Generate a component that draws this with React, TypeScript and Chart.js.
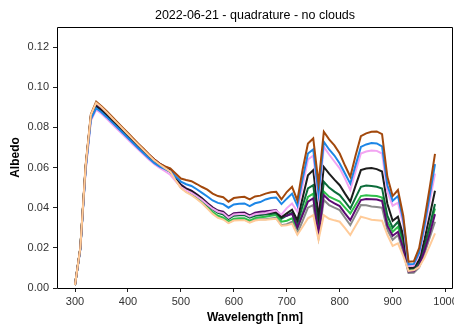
import React, { useEffect, useRef } from "react";
import { Chart, registerables } from "chart.js";

Chart.register(...registerables);

const TITLE = "2022-06-21 - quadrature - no clouds";
const X_LABEL = "Wavelength [nm]";
const Y_LABEL = "Albedo";
const X_TICKS = [300, 400, 500, 600, 700, 800, 900, 1000];
const Y_TICKS = [0, 0.02, 0.04, 0.06, 0.08, 0.1, 0.12];

const wavelengths = [
  300, 310, 320, 330, 340, 350, 360, 370, 380, 390,
  400, 410, 420, 430, 440, 450, 460, 470, 480, 490,
  500, 510, 520, 530, 540, 550, 560, 570, 580, 590,
  600, 610, 620, 630, 640, 650, 660, 670, 680, 690,
  700, 710, 720, 730, 740, 750, 760, 770, 780, 790,
  800, 810, 820, 830, 840, 850, 860, 870, 880, 890,
  900, 910, 920, 930, 940, 950, 960, 970, 980,
];

const brown = [
  0.0015, 0.0200, 0.0610, 0.0865, 0.0928, 0.0905, 0.0880, 0.0853, 0.0826, 0.0799,
  0.0772, 0.0745, 0.0718, 0.0692, 0.0665, 0.0640, 0.0620, 0.0606, 0.0596, 0.0570,
  0.0545, 0.0538, 0.0532, 0.0518, 0.0503, 0.0490, 0.0470, 0.0458, 0.0452, 0.0430,
  0.0448, 0.0452, 0.0454, 0.0441, 0.0456, 0.0460, 0.0470, 0.0477, 0.0479, 0.0442,
  0.0478, 0.0504, 0.0436, 0.0590, 0.0720, 0.0745, 0.0520, 0.0778, 0.0740, 0.0710,
  0.0670, 0.0610, 0.0554, 0.0660, 0.0756, 0.0770, 0.0778, 0.0780, 0.0766, 0.0554,
  0.0458, 0.0488, 0.0360, 0.0131, 0.0133, 0.0198, 0.0340, 0.0500, 0.0668,
];

const blue = [
  0.0015, 0.0192, 0.0588, 0.0840, 0.0895, 0.0875, 0.0851, 0.0825, 0.0799, 0.0773,
  0.0747, 0.0721, 0.0695, 0.0670, 0.0645, 0.0622, 0.0605, 0.0592, 0.0580, 0.0555,
  0.0530, 0.0517, 0.0508, 0.0492, 0.0474, 0.0456, 0.0436, 0.0424, 0.0418, 0.0400,
  0.0416, 0.0420, 0.0421, 0.0408, 0.0422, 0.0428, 0.0441, 0.0448, 0.0451, 0.0418,
  0.0445, 0.0470, 0.0410, 0.0545, 0.0670, 0.0690, 0.0470, 0.0728, 0.0690, 0.0660,
  0.0620, 0.0570, 0.0520, 0.0612, 0.0703, 0.0715, 0.0722, 0.0720, 0.0705, 0.0512,
  0.0435, 0.0458, 0.0338, 0.0118, 0.0120, 0.0176, 0.0310, 0.0460, 0.0617,
];

const pink = [
  0.0015, 0.0190, 0.0580, 0.0833, 0.0888, 0.0868, 0.0843, 0.0817, 0.0791, 0.0765,
  0.0739, 0.0713, 0.0688, 0.0663, 0.0639, 0.0616, 0.0598, 0.0582, 0.0564, 0.0533,
  0.0503, 0.0486, 0.0474, 0.0457, 0.0438, 0.0416, 0.0395, 0.0380, 0.0373, 0.0350,
  0.0366, 0.0368, 0.0369, 0.0356, 0.0367, 0.0371, 0.0374, 0.0380, 0.0386, 0.0365,
  0.0398, 0.0421, 0.0380, 0.0510, 0.0640, 0.0660, 0.0440, 0.0703, 0.0665, 0.0630,
  0.0596, 0.0545, 0.0488, 0.0580, 0.0670, 0.0680, 0.0685, 0.0683, 0.0670, 0.0480,
  0.0410, 0.0425, 0.0318, 0.0110, 0.0112, 0.0165, 0.0290, 0.0430, 0.0570,
];

const black = [
  0.0015, 0.0195, 0.0598, 0.0853, 0.0905, 0.0885, 0.0861, 0.0835, 0.0809, 0.0783,
  0.0757, 0.0731, 0.0705, 0.0680, 0.0655, 0.0632, 0.0612, 0.0598, 0.0585, 0.0545,
  0.0512, 0.0493, 0.0482, 0.0464, 0.0444, 0.0419, 0.0398, 0.0382, 0.0375, 0.0352,
  0.0368, 0.0370, 0.0371, 0.0358, 0.0368, 0.0372, 0.0372, 0.0376, 0.0378, 0.0352,
  0.0372, 0.0390, 0.0338, 0.0450, 0.0562, 0.0587, 0.0360, 0.0603, 0.0570, 0.0540,
  0.0512, 0.0470, 0.0430, 0.0510, 0.0587, 0.0595, 0.0598, 0.0592, 0.0580, 0.0420,
  0.0335, 0.0355, 0.0262, 0.0100, 0.0102, 0.0140, 0.0240, 0.0360, 0.0484,
];

const purple = [
  0.0015, 0.0197, 0.0600, 0.0858, 0.0912, 0.0892, 0.0868, 0.0842, 0.0816, 0.0790,
  0.0764, 0.0738, 0.0713, 0.0688, 0.0663, 0.0640, 0.0620, 0.0604, 0.0590, 0.0550,
  0.0515, 0.0496, 0.0485, 0.0467, 0.0447, 0.0423, 0.0402, 0.0386, 0.0380, 0.0356,
  0.0372, 0.0375, 0.0376, 0.0362, 0.0375, 0.0380, 0.0382, 0.0385, 0.0388, 0.0356,
  0.0360, 0.0370, 0.0300, 0.0365, 0.0430, 0.0446, 0.0270, 0.0463, 0.0437, 0.0422,
  0.0408, 0.0372, 0.0338, 0.0390, 0.0438, 0.0443, 0.0442, 0.0441, 0.0433, 0.0310,
  0.0260, 0.0280, 0.0200, 0.0082, 0.0083, 0.0112, 0.0185, 0.0270, 0.0368,
];

const darkGreen = [
  0.0015, 0.0196, 0.0598, 0.0855, 0.0910, 0.0889, 0.0864, 0.0838, 0.0811, 0.0785,
  0.0758, 0.0731, 0.0705, 0.0679, 0.0653, 0.0630, 0.0610, 0.0595, 0.0580, 0.0540,
  0.0507, 0.0488, 0.0476, 0.0458, 0.0438, 0.0413, 0.0391, 0.0374, 0.0366, 0.0344,
  0.0360, 0.0362, 0.0363, 0.0350, 0.0360, 0.0364, 0.0366, 0.0369, 0.0372, 0.0345,
  0.0360, 0.0375, 0.0320, 0.0410, 0.0496, 0.0512, 0.0310, 0.0529, 0.0500, 0.0480,
  0.0463, 0.0430, 0.0396, 0.0450, 0.0504, 0.0510, 0.0508, 0.0504, 0.0496, 0.0360,
  0.0300, 0.0330, 0.0240, 0.0095, 0.0096, 0.0128, 0.0210, 0.0310, 0.0418,
];

const green = [
  0.0015, 0.0195, 0.0596, 0.0852, 0.0905, 0.0884, 0.0859, 0.0833, 0.0807, 0.0781,
  0.0754, 0.0728, 0.0702, 0.0676, 0.0651, 0.0628, 0.0608, 0.0593, 0.0578, 0.0538,
  0.0503, 0.0483, 0.0470, 0.0451, 0.0430, 0.0404, 0.0378, 0.0360, 0.0351, 0.0331,
  0.0345, 0.0347, 0.0347, 0.0335, 0.0348, 0.0352, 0.0355, 0.0360, 0.0363, 0.0330,
  0.0335, 0.0347, 0.0297, 0.0375, 0.0454, 0.0470, 0.0290, 0.0480, 0.0455, 0.0443,
  0.0430, 0.0400, 0.0371, 0.0415, 0.0458, 0.0462, 0.0460, 0.0458, 0.0450, 0.0330,
  0.0280, 0.0305, 0.0220, 0.0090, 0.0092, 0.0122, 0.0200, 0.0300, 0.0396,
];

const gray = [
  0.0015, 0.0198, 0.0603, 0.0861, 0.0918, 0.0896, 0.0871, 0.0844, 0.0817, 0.0790,
  0.0763, 0.0736, 0.0709, 0.0683, 0.0657, 0.0633, 0.0613, 0.0596, 0.0580, 0.0538,
  0.0500, 0.0480, 0.0466, 0.0447, 0.0426, 0.0400, 0.0373, 0.0354, 0.0345, 0.0326,
  0.0339, 0.0341, 0.0341, 0.0329, 0.0339, 0.0343, 0.0343, 0.0346, 0.0349, 0.0313,
  0.0318, 0.0330, 0.0272, 0.0335, 0.0400, 0.0413, 0.0250, 0.0438, 0.0413, 0.0400,
  0.0388, 0.0350, 0.0313, 0.0363, 0.0413, 0.0412, 0.0406, 0.0404, 0.0400, 0.0290,
  0.0240, 0.0264, 0.0180, 0.0075, 0.0076, 0.0102, 0.0170, 0.0250, 0.0330,
];

const lightOrange = [
  0.0015, 0.0199, 0.0606, 0.0863, 0.0922, 0.0900, 0.0874, 0.0847, 0.0820, 0.0793,
  0.0766, 0.0739, 0.0712, 0.0686, 0.0660, 0.0635, 0.0615, 0.0597, 0.0580, 0.0537,
  0.0498, 0.0477, 0.0462, 0.0443, 0.0422, 0.0396, 0.0369, 0.0350, 0.0341, 0.0323,
  0.0336, 0.0338, 0.0338, 0.0326, 0.0336, 0.0340, 0.0340, 0.0343, 0.0345, 0.0310,
  0.0312, 0.0320, 0.0265, 0.0305, 0.0347, 0.0363, 0.0240, 0.0363, 0.0345, 0.0337,
  0.0330, 0.0298, 0.0264, 0.0310, 0.0355, 0.0348, 0.0340, 0.0338, 0.0335, 0.0265,
  0.0210, 0.0222, 0.0160, 0.0085, 0.0088, 0.0105, 0.0150, 0.0210, 0.0272,
];

const SERIES: { name: string; values: number[]; color: string }[] = [
  { name: "light orange", values: lightOrange, color: "#ffcb99" },
  { name: "brown", values: brown, color: "#a2480c" },
  { name: "blue", values: blue, color: "#1c86e6" },
  { name: "pink", values: pink, color: "#f2a4f2" },
  { name: "black", values: black, color: "#1c1c1c" },
  { name: "purple", values: purple, color: "#5b0b72" },
  { name: "dark green", values: darkGreen, color: "#0c6c3a" },
  { name: "green", values: green, color: "#2ec04a" },
  { name: "gray", values: gray, color: "#8a8a8a" },
];

const FONT = "'Liberation Sans', Arial, Helvetica, sans-serif";

const framePlugin = {
  id: "frame",
  afterDatasetsDraw(chart: any) {
    const { ctx, chartArea } = chart;
    const l = Math.round(chartArea.left) + 0.5;
    const t = Math.round(chartArea.top) + 0.5;
    const r = Math.round(chartArea.right) - 0.5;
    const b = Math.round(chartArea.bottom) + 0.5;
    ctx.save();
    ctx.strokeStyle = "#000";
    ctx.lineWidth = 1;
    ctx.beginPath();
    ctx.moveTo(l, t);
    ctx.lineTo(r, t);
    ctx.lineTo(r, b);
    ctx.lineTo(l, b);
    ctx.closePath();
    ctx.stroke();
    ctx.restore();
  },
};

export default function App() {
  const ref = useRef<HTMLCanvasElement | null>(null);

  useEffect(() => {
    document.body.style.margin = "0";
    document.body.style.overflow = "hidden";
    const canvas = ref.current;
    if (!canvas) return;
    const chart = new Chart(canvas, {
      type: "line",
      data: {
        datasets: SERIES.map((s) => ({
          label: s.name,
          data: wavelengths.map((w, i) => ({ x: w, y: s.values[i] })),
          borderColor: s.color,
          backgroundColor: s.color,
          borderWidth: 2,
          pointRadius: 0,
          tension: 0,
          fill: false,
        })),
      },
      options: {
        responsive: false,
        animation: false,
        devicePixelRatio: 1,
        layout: { padding: { left: 0, right: 1, top: 0, bottom: 0 } },
        plugins: {
          legend: { display: false },
          tooltip: { enabled: false },
          title: {
            display: true,
            text: TITLE,
            fullSize: false,
            color: "#000",
            font: { family: FONT, size: 12.5, weight: "normal" },
            padding: { top: 8, bottom: 4 },
          },
        },
        scales: {
          x: {
            type: "linear",
            min: 266,
            max: 1014,
            afterBuildTicks: (scale: any) => {
              scale.ticks = X_TICKS.map((v) => ({ value: v }));
            },
            afterFit: (scale: any) => {
              scale.height = 38;
              scale.paddingLeft = 0;
              scale.paddingRight = 0;
            },
            grid: {
              display: true,
              drawOnChartArea: false,
              drawTicks: true,
              tickLength: 4,
              color: "#222",
              lineWidth: 1,
            },
            border: { display: false },
            ticks: {
              autoSkip: false,
              maxRotation: 0,
              padding: 3,
              color: "#333",
              font: { family: FONT, size: 11 },
              callback: (v: any) => String(v),
            },
            title: {
              display: true,
              text: X_LABEL,
              color: "#000",
              font: { family: FONT, size: 12, weight: "bold" },
              padding: { top: 0, bottom: 1 },
            },
          },
          y: {
            type: "linear",
            min: 0,
            max: 0.13,
            afterBuildTicks: (scale: any) => {
              scale.ticks = Y_TICKS.map((v) => ({ value: v }));
            },
            afterFit: (scale: any) => {
              scale.width = 57;
              scale.paddingTop = 0;
              scale.paddingBottom = 0;
            },
            grid: {
              display: true,
              drawOnChartArea: false,
              drawTicks: true,
              tickLength: 4,
              color: "#222",
              lineWidth: 1,
            },
            border: { display: false },
            ticks: {
              autoSkip: false,
              padding: 4,
              color: "#333",
              font: { family: FONT, size: 11 },
              callback: (v: any) => Number(v).toFixed(2),
            },
            title: {
              display: true,
              text: Y_LABEL,
              color: "#000",
              font: { family: FONT, size: 12, weight: "bold" },
              padding: { top: 8, bottom: 0 },
            },
          },
        },
      },
      plugins: [framePlugin],
    });
    return () => chart.destroy();
  }, []);

  return (
    <div style={{ width: 454, height: 326, overflow: "hidden" }}>
      <canvas ref={ref} width={454} height={326} style={{ display: "block" }} />
    </div>
  );
}
